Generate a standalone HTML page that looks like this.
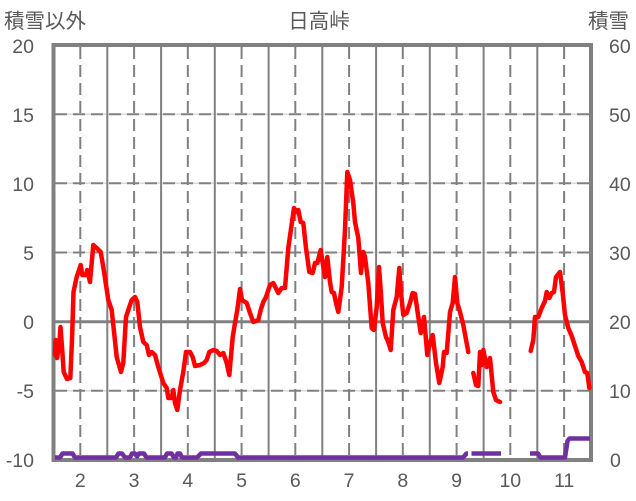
<!DOCTYPE html>
<html>
<head>
<meta charset="utf-8">
<style>
html,body{margin:0;padding:0;background:#fff;}
svg{display:block;}
text{font-family:"Liberation Sans","Noto Sans CJK JP",sans-serif;fill:#595959;}
</style>
</head>
<body>
<svg width="636" height="501" viewBox="0 0 636 501" xmlns="http://www.w3.org/2000/svg">
<rect width="636" height="501" fill="#fff"/>
<!-- horizontal gridlines -->
<g stroke="#d9d9d9" stroke-width="1.5">
<line x1="53" y1="114.2" x2="591" y2="114.2"/>
<line x1="53" y1="183.3" x2="591" y2="183.3"/>
<line x1="53" y1="252.5" x2="591" y2="252.5"/>
<line x1="53" y1="390.8" x2="591" y2="390.8"/>
</g>
<g stroke="#808080" stroke-width="2" stroke-dasharray="12,6">
<line x1="55" y1="114.2" x2="591" y2="114.2"/>
<line x1="55" y1="183.3" x2="591" y2="183.3"/>
<line x1="55" y1="252.5" x2="591" y2="252.5"/>
<line x1="55" y1="390.8" x2="591" y2="390.8"/>
</g>
<!-- vertical dashed -->
<g stroke="#808080" stroke-width="2" stroke-dasharray="12,6">
<line x1="80.3" y1="47" x2="80.3" y2="459"/>
<line x1="134.1" y1="47" x2="134.1" y2="459"/>
<line x1="187.8" y1="47" x2="187.8" y2="459"/>
<line x1="241.6" y1="47" x2="241.6" y2="459"/>
<line x1="295.3" y1="47" x2="295.3" y2="459"/>
<line x1="349.1" y1="47" x2="349.1" y2="459"/>
<line x1="402.8" y1="47" x2="402.8" y2="459"/>
<line x1="456.6" y1="47" x2="456.6" y2="459"/>
<line x1="510.3" y1="47" x2="510.3" y2="459"/>
<line x1="564.1" y1="47" x2="564.1" y2="459"/>
</g>
<!-- vertical solid -->
<g stroke="#808080" stroke-width="2">
<line x1="107.3" y1="45" x2="107.3" y2="460"/>
<line x1="161.1" y1="45" x2="161.1" y2="460"/>
<line x1="214.8" y1="45" x2="214.8" y2="460"/>
<line x1="268.6" y1="45" x2="268.6" y2="460"/>
<line x1="322.3" y1="45" x2="322.3" y2="460"/>
<line x1="376.1" y1="45" x2="376.1" y2="460"/>
<line x1="429.8" y1="45" x2="429.8" y2="460"/>
<line x1="483.6" y1="45" x2="483.6" y2="460"/>
<line x1="537.3" y1="45" x2="537.3" y2="460"/>
</g>
<!-- zero line -->
<line x1="53" y1="321.7" x2="591" y2="321.7" stroke="#808080" stroke-width="3"/>
<!-- frame -->
<rect x="53.5" y="45" width="537.5" height="415" fill="none" stroke="#808080" stroke-width="4"/>
<!-- red series -->
<g fill="none" stroke="#ff0000" stroke-width="4.5" stroke-linejoin="round" stroke-linecap="round">
<polyline points="55,355 55.5,340 57,358 59.5,342 60.5,327 62,347 63.7,372 67,379 70.3,378 72,340 73.5,292 76.7,277 80.7,265 82.3,275 86,275 87.3,270 90,282 93.3,245 96.7,248 100.7,252 103.3,267 108.3,300 111.7,310 116.7,357 121,372 123.3,363 126,317 128.3,310 131.7,300 135,297 137.3,302 140,327 143.3,342 146.7,345 149,355 151.7,352 155,355 158.3,367 163.3,383 166.7,388 168.3,398 171.7,398 173.3,390 175,403 177.3,410 180,390 183.3,372 186,352 190,352 192.7,357 195,366 200,365 204,363 206.7,360 209.3,352 213.3,350 216.7,351 220,355 223.3,353 226.7,363 229.3,375 232.7,337 235,323 237.3,310 240,289 242,300 246.7,303 250,313 253.3,322 258.3,320 260.7,310 263.3,302 266,297 270,285 273.3,283 278.3,293 281.7,288 285,288 288.3,248 294,208 296.7,212 298.3,210 300.7,222 303.3,223 306,248 309.3,272 312.7,273 315,263 317.3,263 320.7,250 322.7,263 325,277 327.3,257 330,282 331.7,292 334,293 336,303 338.3,312 341.7,287 345,230 347.3,172 350,180 353.3,203 355,222 358.3,238 361,273 363.3,252 365,257 368.3,283 371.7,328 374,330 376.7,307 379,267 380.7,290 382.7,323 386,337 388.3,342 390.7,350 393.3,310 396.7,297 399.3,268 400.7,290 403.3,315 406.7,313 410,303 412.7,293 415,294 417.3,310 420.7,333 424,317 427.3,355 430,343 432.7,335 436,363 439.3,383 442.7,367 444,352 446.7,353 450,312 452.7,303 455,277 457.3,303 460,312 463.3,325 468.3,352"/>
<polyline points="473.3,373 476,385 478.3,386 480,352 481.7,365 483.3,350 486.7,367 490,358 493.3,392 496,400 500,402"/>
<polyline points="530.7,351 533.3,340 535,317 538.3,317 541.7,308 545,301 546.7,292 549.3,298 551.7,293 554,292 556,277 560,272 562.7,293 565,315 568.3,328 571.7,336 575,346 578.3,356 581.7,362 585,372 587.3,373 589.3,388"/>
</g>
<!-- purple series -->
<g fill="none" stroke="#7030a0" stroke-width="4.5" stroke-linejoin="round">
<polyline points="55,457.5 60,457.5 62.5,453.5 72.5,453.5 75,457.5 116,457.5 118.5,453.5 122,453.5 125,457.5 130,457.5 132,453.5 135,453.5 137,456.5 139,453.5 144,453.5 146.5,457.5 165,457.5 167,453.5 171.5,453.5 174,457.5 176,457.5 177.5,453.5 180,453.5 182,457.5 197,457.5 201,453.5 235,453.5 238,457.5 463,457.5 466.5,453.5 468,453.5"/>
<polyline points="471.5,453.5 501,453.5"/>
<polyline points="530,453.5 538,453.5 540.5,457.5 565,457.5 567.5,441 569.5,438.5 590,438.5"/>
</g>
<!-- titles -->
<text x="4" y="28" font-size="20.5">積雪以外</text>
<text x="319" y="28" font-size="20.5" text-anchor="middle">日高峠</text>
<text x="588" y="28" font-size="20.5">積雪</text>
<!-- left axis labels -->
<g font-size="19.5" text-anchor="end">
<text x="34" y="53">20</text>
<text x="34" y="122">15</text>
<text x="34" y="191">10</text>
<text x="34" y="260">5</text>
<text x="34" y="329">0</text>
<text x="34" y="398">-5</text>
<text x="34" y="467">-10</text>
</g>
<!-- right axis labels -->
<g font-size="19.5" text-anchor="start">
<text x="609" y="53">60</text>
<text x="609" y="122">50</text>
<text x="609" y="191">40</text>
<text x="609" y="260">30</text>
<text x="609" y="329">20</text>
<text x="609" y="398">10</text>
<text x="610" y="467">0</text>
</g>
<!-- bottom labels -->
<g font-size="19.5" text-anchor="middle">
<text x="80.3" y="487">2</text>
<text x="134.1" y="487">3</text>
<text x="187.8" y="487">4</text>
<text x="241.6" y="487">5</text>
<text x="295.3" y="487">6</text>
<text x="349.1" y="487">7</text>
<text x="402.8" y="487">8</text>
<text x="456.6" y="487">9</text>
<text x="510.3" y="487">10</text>
<text x="564.1" y="487">11</text>
</g>
</svg>
</body>
</html>
